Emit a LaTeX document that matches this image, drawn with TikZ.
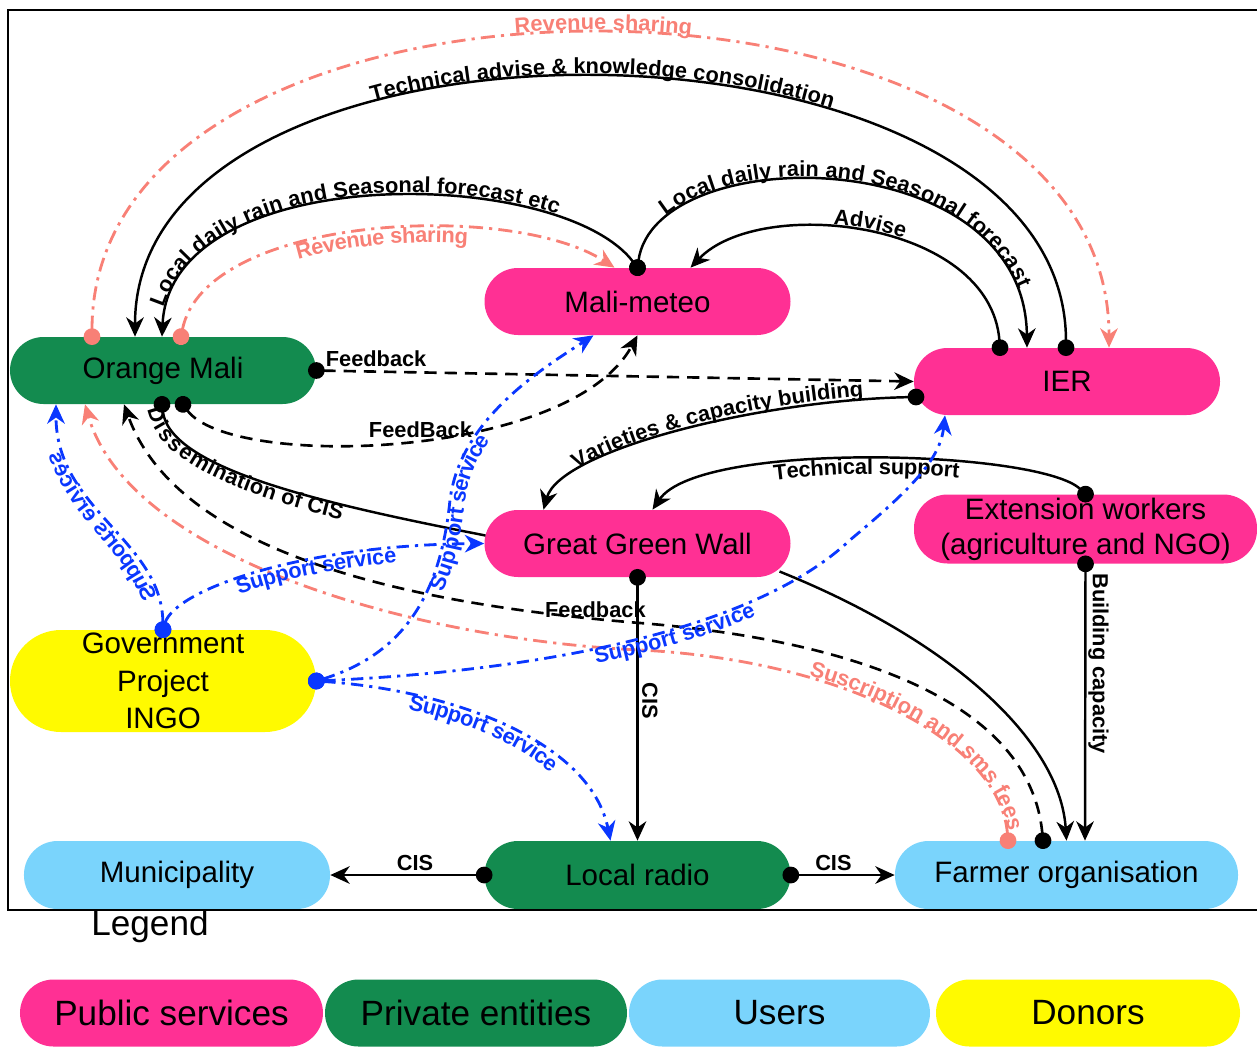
\documentclass[tikz,border=0pt]{standalone}
\usepackage{fontspec}
\setmainfont{Liberation Sans}
\usetikzlibrary{arrows.meta, calc, decorations.text}

\definecolor{pubpink}{RGB}{255,48,148}
\definecolor{privgreen}{RGB}{19,139,79}
\definecolor{userblue}{RGB}{122,212,252}
\definecolor{donoryellow}{RGB}{255,250,0}
\definecolor{revsalmon}{RGB}{248,128,118}
\definecolor{supblue}{RGB}{10,55,255}

\newcommand{\lblfont}{\fontsize{12.4}{14}\selectfont\bfseries}
\newcommand{\nodefont}{\fontsize{16.8}{20}\selectfont}
\newcommand{\legfont}{\fontsize{20}{24}\selectfont}

\tikzset{
  actor/.style={rectangle, rounded corners=6.7mm, minimum width=61.2mm, minimum height=13.4mm,
    inner sep=0pt, align=center, font=\nodefont},
  public/.style={actor, fill=pubpink},
  private/.style={actor, fill=privgreen},
  user/.style={actor, fill=userblue},
  donor/.style={actor, fill=donoryellow},
  toarrow/.style={-{Stealth[length=11pt,width=10pt,inset=3.5pt]}},
  fromdot/.style={{Circle[length=9.5pt]}-{Stealth[length=11pt,width=10pt,inset=3.5pt]}, shorten <=-4.75pt},
  dotonly/.style={{Circle[length=9.5pt]}-, shorten <=-4.75pt},
  solidlink/.style={line width=1.4pt, draw=black},
  dashlink/.style={line width=1.5pt, draw=black, dash pattern=on 7pt off 4.5pt},
  revlink/.style={line width=1.6pt, draw=revsalmon, dash pattern=on 8pt off 3.5pt on 1.8pt off 3.5pt},
  suplink/.style={line width=1.6pt, draw=supblue, dash pattern=on 7pt off 3.5pt on 1.8pt off 3.5pt},
  lbl/.style={font=\lblfont, inner sep=2pt},
  along/.style={postaction={decorate, decoration={text along path, #1}}}
}

\begin{document}
\begin{tikzpicture}[x=0.2mm, y=-0.2mm]
\useasboundingbox (0,0) rectangle (1257,1046);

% actors
\node[private] (orange) at (163,370.5) {Orange Mali};
\node[public] (meteo) at (637.5,301.5) {Mali-meteo};
\node[public] (ier) at (1067,381.5) {IER};
\node[public] (ggw) at (637.5,543.5) {Great Green Wall};
\node[public, minimum width=68.6mm, minimum height=13.8mm] (ext) at (1085.5,529) {Extension workers\\(agriculture and NGO)};
\node[donor, minimum height=20.4mm, rounded corners=10.2mm, font=\fontsize{16.8}{21.3}\selectfont] (gov) at (163,681) {Government\\Project\\INGO};
\node[user, minimum height=13.6mm] (muni) at (177,875) {Municipality};
\node[private, minimum height=13.6mm] (radio) at (637.5,875) {Local radio};
\node[user, minimum width=68.6mm, minimum height=13.6mm] (farmer) at (1066.5,875) {Farmer organisation};

% frame
\draw[line width=1.1pt] (8,10) rectangle (1270,910);

% revenue and information flows at the top
\draw[revlink, fromdot, along={text align=center, raise=2pt, text={|\lblfont\color{revsalmon}|Revenue sharing}}]
  ($(orange.north)+(-71,0)$) .. controls (92,-72) and (1109,-67) .. ($(ier.north)+(42,0)$);
\draw[solidlink, fromdot, along={reverse path, text align=center, raise=2pt, text={|\lblfont|Technical advise {\&} knowledge consolidation}}]
  ($(ier.north)+(-1,0)$) .. controls (1065,-5) and (135,-17) .. ($(orange.north)+(-28,0)$);
\draw[solidlink, fromdot, along={reverse path, text align={left, left indent=16pt}, raise=2pt, text={|\lblfont|Local daily rain and Seasonal forecast etc}}]
  (meteo.north) .. controls (560,165) and (170,160) .. ($(orange.north)+(-1,0)$);
\draw[revlink, fromdot, along={text align=center, raise=-8.5pt, text={|\lblfont\color{revsalmon}|Revenue sharing}}]
  ($(orange.north)+(18,0)$) .. controls (205,215) and (510,200) .. ($(meteo.north)+(-23,0)$);
\draw[solidlink, fromdot, along={text align=center, raise=2pt, text={|\lblfont|Local daily rain and Seasonal forecast}}]
  (meteo.north) .. controls (655,140) and (1025,140) .. ($(ier.north)+(-40,0)$);
\draw[solidlink, fromdot, along={reverse path, text align=center, raise=2pt, text={|\lblfont|Advise}}]
  ($(ier.north)+(-67,0)$) .. controls (990,220) and (760,195) .. ($(meteo.north)+(53,0)$);

% feedback
\draw[dashlink, fromdot] (orange.east) -- node[lbl, pos=0.1, above] (fbier) {Feedback} (ier.west);
\draw[dashlink, fromdot] ($(orange.south)+(20,0)$) .. controls (230,470) and (570,460) ..
  node[lbl, pos=0.53, above=-2pt] (fbmeteo) {FeedBack} (meteo.south);
\draw[dashlink, fromdot] ($(farmer.north)+(-23.5,0)$) .. controls (1030,700) and (850,640) .. (640,623)
  .. controls (430,606) and (180,560) .. node[lbl, pos=0.07, above=-2pt] (fbfarmer) {Feedback} ($(orange.south)+(-39,0)$);

% dissemination and fees
\draw[solidlink, dotonly, along={text align={left, left indent=0pt}, raise=-8.5pt, text={|\lblfont|Dissemination of CIS}}]
  ($(orange.south)+(-1,0)$) .. controls (170,470) and (330,505) .. ($(ggw.center)+(-152,-8)$);
\draw[revlink, fromdot, along={reverse path, text align={right, right indent=5pt}, raise=1pt, text={|\lblfont\color{revsalmon}|Suscription and sms fees}}]
  ($(farmer.north)+(-58.5,0)$) .. controls (1000,740) and (840,660) .. (640,650)
  .. controls (420,640) and (130,560) .. ($(orange.south)+(-78,0)$);
\draw[solidlink, toarrow] ($(ggw.center)+(142,28)$) .. controls (950,640) and (1060,740) .. (farmer.north);

% CIS channels
\draw[solidlink, fromdot] (ggw.south) -- node[lbl, pos=0.47, rotate=-90, anchor=south] (cisv) {CIS} (radio.north);
\draw[solidlink, fromdot] (ext.south) -- node[lbl, inner sep=1pt, pos=0.36, rotate=-90, anchor=south] (bcap) {Building capacity} ($(farmer.north)+(18.5,0)$);
\draw[solidlink, fromdot] (radio.west) -- node[lbl, pos=0.45, above] (cism) {CIS} (muni.east);
\draw[solidlink, fromdot] (radio.east) -- node[lbl, pos=0.41, above] (cisf) {CIS} (farmer.west);

% capacity building
\draw[solidlink, fromdot, along={reverse path, text align=center, raise=2pt, text={|\lblfont|Varieties {\&} capacity building}}]
  ($(ier.center)+(-151,15.5)$) .. controls (760,400) and (560,450) .. ($(ggw.north)+(-94,0)$);
\draw[solidlink, fromdot, along={reverse path, text align=center, raise=-8.5pt, text={|\lblfont|Technical support}}]
  (ext.north) .. controls (1040,450) and (700,440) .. ($(ggw.north)+(15,0)$);

% support from donors
\draw[suplink, fromdot] (gov.north) .. controls (162,540) and (56,510) .. ($(orange.south)+(-107,0)$);
\begin{scope}[transform canvas={shift={(216,0)}, xscale=-1}]
\path[decorate, decoration={text along path, text align={left, left indent=19pt}, raise=-9pt,
  text={|\lblfont\color{supblue}|Supports ervices}}] (53,630) .. controls (54,540) and (160,510) .. (160,404);
\end{scope}
\draw[suplink, fromdot, along={text align=center, raise=-8.5pt, text={|\lblfont\color{supblue}|Support service}}]
  (gov.north) .. controls (175,590) and (300,545) .. (ggw.west);
\draw[suplink, fromdot, along={text align=center, raise=-8.5pt, text={|\lblfont\color{supblue}|Support service}}]
  (gov.east) .. controls (400,655) and (440,600) .. (450,500) .. controls (460,420) and (540,370) .. ($(meteo.south)+(-44,0)$);
\draw[suplink, fromdot, along={text align=center, raise=-8.5pt, text={|\lblfont\color{supblue}|Support service}}]
  (gov.east) .. controls (560,670) and (760,625) .. (850,540) .. controls (910,490) and (940,460) .. ($(ier.south)+(-122,0)$);
\draw[suplink, fromdot, along={text align=center, raise=-8.5pt, text={|\lblfont\color{supblue}|Support service}}]
  (gov.east) .. controls (450,690) and (590,740) .. ($(radio.north)+(-27,0)$);

% legend
\node[font=\legfont] (legtitle) at (150,926) {Legend};
\node[public, font=\legfont, minimum width=60.6mm] (legpub) at (171.5,1013) {Public services};
\node[private, font=\legfont, minimum width=60.4mm] (legpriv) at (476,1013) {Private entities};
\node[user, font=\legfont, minimum width=60.2mm] (leguser) at (779.5,1013) {Users};
\node[donor, font=\legfont, minimum width=60.8mm] (legdonor) at (1088,1013) {Donors};
\end{tikzpicture}
\end{document}
